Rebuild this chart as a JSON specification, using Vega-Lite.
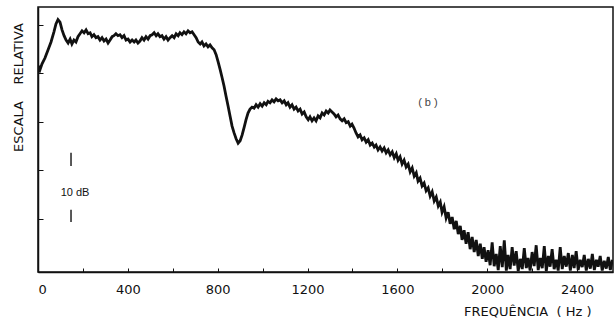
{
"$schema":"https://vega.github.io/schema/vega-lite/v6.json",
"width":575,"height":265,"autosize":"none",
"padding":{"left":38,"top":7,"right":2,"bottom":50},
"background":"#ffffff",
"config":{"view":{"stroke":"#111","strokeWidth":1.5},"axis":{"grid":false,"domainColor":"#111","tickColor":"#111","labelColor":"#111","titleColor":"#111","labelFont":"DejaVu Sans","titleFont":"DejaVu Sans"}},
"datasets":{
"curve":[
{"f":0,"a":40.3},{"f":4,"a":41.5},{"f":9,"a":40.7},{"f":18,"a":41.9},{"f":31,"a":43.1},{"f":45,"a":44.8},{"f":58,"a":46.4},{"f":71,"a":48.5},{"f":80,"a":50.1},{"f":89,"a":51.0},{"f":98,"a":50.5},{"f":107,"a":48.9},{"f":116,"a":47.7},{"f":125,"a":46.8},{"f":134,"a":46.2},{"f":143,"a":47.0},{"f":151,"a":46.0},{"f":160,"a":46.8},{"f":169,"a":46.4},{"f":178,"a":47.5},{"f":187,"a":48.1},{"f":196,"a":48.7},{"f":205,"a":48.3},{"f":214,"a":48.9},{"f":223,"a":48.1},{"f":232,"a":48.3},{"f":240,"a":47.5},{"f":249,"a":47.9},{"f":258,"a":47.3},{"f":267,"a":47.5},{"f":276,"a":46.8},{"f":285,"a":47.3},{"f":294,"a":46.6},{"f":303,"a":47.0},{"f":312,"a":46.2},{"f":321,"a":46.8},{"f":330,"a":47.5},{"f":338,"a":47.7},{"f":347,"a":48.1},{"f":356,"a":47.7},{"f":365,"a":47.9},{"f":374,"a":47.3},{"f":383,"a":47.7},{"f":392,"a":46.8},{"f":401,"a":47.0},{"f":410,"a":46.4},{"f":419,"a":46.8},{"f":428,"a":46.4},{"f":436,"a":46.8},{"f":445,"a":46.2},{"f":454,"a":46.6},{"f":463,"a":47.3},{"f":472,"a":46.8},{"f":481,"a":47.5},{"f":490,"a":47.0},{"f":499,"a":47.7},{"f":508,"a":47.9},{"f":517,"a":48.3},{"f":526,"a":47.7},{"f":534,"a":48.1},{"f":543,"a":47.5},{"f":552,"a":47.7},{"f":561,"a":47.0},{"f":570,"a":47.5},{"f":579,"a":46.8},{"f":588,"a":47.3},{"f":597,"a":47.7},{"f":606,"a":47.3},{"f":615,"a":48.1},{"f":624,"a":47.7},{"f":632,"a":48.3},{"f":641,"a":47.9},{"f":650,"a":48.5},{"f":659,"a":48.1},{"f":668,"a":48.7},{"f":677,"a":48.3},{"f":686,"a":48.5},{"f":695,"a":47.9},{"f":704,"a":47.3},{"f":713,"a":46.4},{"f":722,"a":46.0},{"f":730,"a":46.4},{"f":739,"a":45.6},{"f":748,"a":46.0},{"f":757,"a":45.4},{"f":766,"a":45.8},{"f":775,"a":45.2},{"f":784,"a":44.8},{"f":793,"a":43.8},{"f":802,"a":42.3},{"f":811,"a":40.7},{"f":820,"a":39.0},{"f":828,"a":37.4},{"f":837,"a":35.3},{"f":846,"a":33.3},{"f":855,"a":31.2},{"f":864,"a":29.1},{"f":873,"a":27.7},{"f":882,"a":26.5},{"f":891,"a":25.6},{"f":900,"a":26.1},{"f":909,"a":27.3},{"f":918,"a":28.9},{"f":926,"a":30.4},{"f":935,"a":31.8},{"f":944,"a":32.6},{"f":953,"a":33.0},{"f":962,"a":32.8},{"f":971,"a":33.5},{"f":980,"a":33.0},{"f":989,"a":33.7},{"f":998,"a":33.2},{"f":1007,"a":33.9},{"f":1016,"a":33.5},{"f":1024,"a":34.2},{"f":1033,"a":33.9},{"f":1042,"a":34.5},{"f":1051,"a":34.1},{"f":1060,"a":34.7},{"f":1069,"a":34.3},{"f":1078,"a":34.5},{"f":1087,"a":33.9},{"f":1096,"a":34.3},{"f":1105,"a":33.5},{"f":1113,"a":33.9},{"f":1122,"a":33.0},{"f":1131,"a":33.5},{"f":1140,"a":32.6},{"f":1149,"a":33.0},{"f":1158,"a":32.2},{"f":1167,"a":32.6},{"f":1176,"a":31.6},{"f":1185,"a":32.0},{"f":1194,"a":31.0},{"f":1203,"a":30.4},{"f":1211,"a":31.0},{"f":1220,"a":30.2},{"f":1229,"a":30.8},{"f":1238,"a":30.2},{"f":1247,"a":31.2},{"f":1256,"a":30.8},{"f":1265,"a":31.8},{"f":1274,"a":31.4},{"f":1283,"a":32.2},{"f":1292,"a":31.8},{"f":1300,"a":32.4},{"f":1309,"a":32.0},{"f":1318,"a":31.6},{"f":1327,"a":31.0},{"f":1336,"a":31.4},{"f":1345,"a":30.6},{"f":1354,"a":30.2},{"f":1363,"a":30.6},{"f":1372,"a":29.8},{"f":1381,"a":30.0},{"f":1390,"a":29.1},{"f":1398,"a":29.5},{"f":1407,"a":28.7},{"f":1416,"a":27.7},{"f":1425,"a":26.9},{"f":1434,"a":27.3},{"f":1443,"a":26.3},{"f":1452,"a":26.7},{"f":1461,"a":25.8},{"f":1470,"a":26.3},{"f":1479,"a":25.2},{"f":1488,"a":25.6},{"f":1497,"a":24.8},{"f":1505,"a":25.2},{"f":1514,"a":24.2},{"f":1523,"a":24.8},{"f":1532,"a":24.0},{"f":1541,"a":24.6},{"f":1550,"a":23.6},{"f":1559,"a":24.2},{"f":1568,"a":23.2},{"f":1577,"a":23.8},{"f":1586,"a":22.6},{"f":1595,"a":23.4},{"f":1603,"a":22.1},{"f":1612,"a":22.8},{"f":1621,"a":21.3},{"f":1630,"a":22.1},{"f":1639,"a":20.7},{"f":1648,"a":21.3},{"f":1657,"a":19.7},{"f":1666,"a":20.5},{"f":1675,"a":18.8},{"f":1684,"a":19.5},{"f":1692,"a":17.8},{"f":1701,"a":18.4},{"f":1710,"a":16.8},{"f":1719,"a":17.4},{"f":1728,"a":15.8},{"f":1737,"a":16.4},{"f":1746,"a":14.7},{"f":1755,"a":15.6},{"f":1764,"a":13.7},{"f":1773,"a":14.5},{"f":1782,"a":12.7},{"f":1791,"a":13.5},{"f":1799,"a":11.4},{"f":1808,"a":12.5},{"f":1817,"a":10.2},{"f":1826,"a":11.4},{"f":1835,"a":9.0},{"f":1844,"a":10.4},{"f":1853,"a":7.9},{"f":1862,"a":9.6},{"f":1871,"a":6.9},{"f":1880,"a":8.6},{"f":1888,"a":5.7},{"f":1897,"a":7.7},{"f":1906,"a":4.9},{"f":1915,"a":7.3},{"f":1924,"a":3.8},{"f":1933,"a":6.3},{"f":1942,"a":3.2},{"f":1951,"a":5.7},{"f":1960,"a":2.4},{"f":1969,"a":4.9},{"f":1978,"a":1.8},{"f":1986,"a":4.2},{"f":1995,"a":1.2},{"f":2004,"a":3.6},{"f":2013,"a":0.5},{"f":2022,"a":5.2},{"f":2031,"a":0.3},{"f":2040,"a":2.8},{"f":2049,"a":-0.5},{"f":2058,"a":4.4},{"f":2067,"a":0.1},{"f":2076,"a":5.6},{"f":2085,"a":-0.6},{"f":2093,"a":2.6},{"f":2102,"a":-0.3},{"f":2111,"a":4.2},{"f":2120,"a":0.4},{"f":2129,"a":3.4},{"f":2138,"a":-0.7},{"f":2147,"a":1.8},{"f":2156,"a":-0.3},{"f":2165,"a":4.0},{"f":2174,"a":-0.1},{"f":2182,"a":2.0},{"f":2191,"a":-0.6},{"f":2200,"a":3.2},{"f":2209,"a":0.3},{"f":2218,"a":4.6},{"f":2227,"a":-0.5},{"f":2236,"a":2.0},{"f":2245,"a":-0.1},{"f":2254,"a":4.4},{"f":2263,"a":-0.7},{"f":2272,"a":2.4},{"f":2280,"a":0.2},{"f":2289,"a":3.8},{"f":2298,"a":-0.3},{"f":2307,"a":1.6},{"f":2316,"a":-0.6},{"f":2325,"a":4.2},{"f":2334,"a":-0.3},{"f":2343,"a":2.4},{"f":2352,"a":0.2},{"f":2361,"a":3.0},{"f":2370,"a":-0.6},{"f":2379,"a":2.6},{"f":2387,"a":-0.1},{"f":2396,"a":3.4},{"f":2405,"a":-0.5},{"f":2414,"a":1.6},{"f":2423,"a":0.1},{"f":2432,"a":2.6},{"f":2441,"a":-0.6},{"f":2450,"a":1.8},{"f":2459,"a":-0.2},{"f":2468,"a":2.8},{"f":2477,"a":-0.5},{"f":2486,"a":1.6},{"f":2494,"a":0.2},{"f":2503,"a":2.4},{"f":2512,"a":-0.6},{"f":2521,"a":1.4},{"f":2530,"a":-0.2},{"f":2539,"a":2.2},{"f":2548,"a":-0.5},{"f":2557,"a":1.6}
],
"labels":[
{"f":165,"a":15.4,"t":"10 dB","font":"DejaVu Sans","size":12,"c":"#111"},
{"f":1736,"a":33.9,"t":"( b )","font":"DejaVu Serif","size":14,"c":"#444"}
],
"marks":[
{"f":147,"a":20.9,"a2":23.6},
{"f":147,"a":9.4,"a2":11.9}
]
},
"layer":[
{"data":{"name":"curve"},"mark":{"type":"line","color":"#111","strokeWidth":2.8,"clip":true},
"encoding":{
"x":{"field":"f","type":"quantitative","scale":{"domain":[0,2560],"nice":false,"zero":false},
"axis":{"values":[0,200,400,600,800,1000,1200,1400,1600,1800,2000,2200,2400],"format":"d","labelExpr":"datum.value % 400 === 0 ? datum.label : ''","tickSize":-4,"labelPadding":15,"labelFontSize":13,"domainWidth":1.5,"title":"FREQUÊNCIA\u00a0\u00a0(\u00a0Hz\u00a0)","titleFontSize":13,"titleFontWeight":"normal","titleAnchor":"end","titleAlign":"right","titleBaseline":"middle","titleX":553,"titleY":39}},
"y":{"field":"a","type":"quantitative","scale":{"domain":[-0.9,53.6],"nice":false,"zero":false},
"axis":{"values":[10,20,30,40,50],"labels":false,"tickSize":-5,"domainWidth":1.5,"title":"ESCALA\u00a0\u00a0\u00a0\u00a0RELATIVA","titleFontSize":13,"titleFontWeight":"normal","titleAngle":-90,"titleAlign":"center","titleBaseline":"middle","titleX":-20,"titleY":80}}
}},
{"data":{"name":"marks"},"mark":{"type":"rule","color":"#222","strokeWidth":1.5},
"encoding":{"x":{"field":"f","type":"quantitative"},"y":{"field":"a","type":"quantitative"},"y2":{"field":"a2"}}},
{"data":{"name":"labels"},"mark":{"type":"text","align":"center","baseline":"middle"},
"encoding":{"x":{"field":"f","type":"quantitative"},"y":{"field":"a","type":"quantitative"},"text":{"field":"t"},"font":{"field":"font"},"color":{"field":"c","type":"nominal","scale":null},"fontSize":{"field":"size","type":"quantitative","scale":null}}}
]
}
